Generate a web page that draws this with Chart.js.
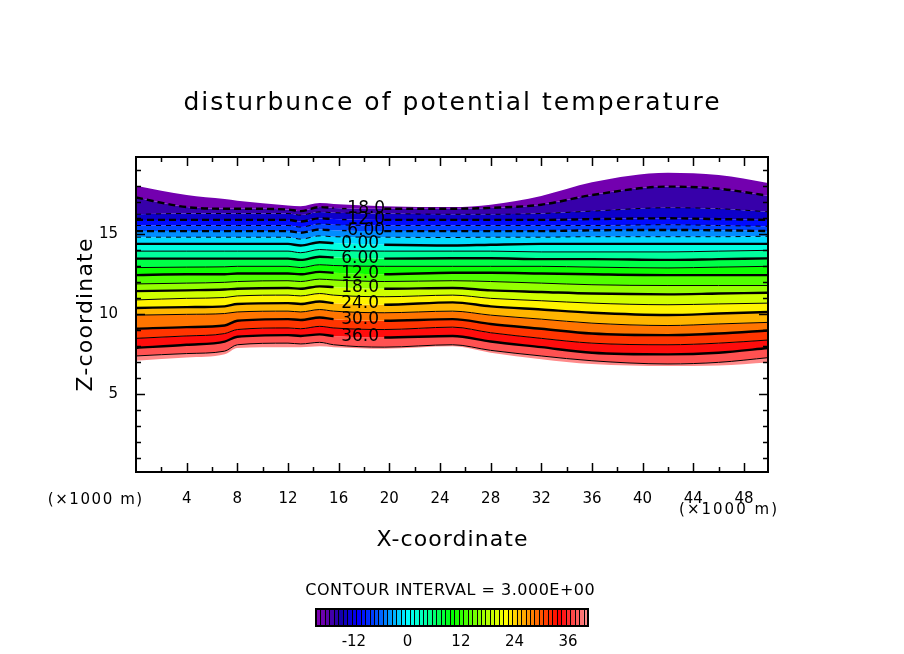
<!DOCTYPE html>
<html>
<head>
<meta charset="utf-8">
<title>disturbunce of potential temperature</title>
<script src="https://cdn.jsdelivr.net/npm/chart.js@4.4.1/dist/chart.umd.min.js"></script>
<style>
  html, body { margin: 0; padding: 0; background: #fff; }
  #wrap { width: 904px; height: 654px; }
</style>
</head>
<body>
<div id="wrap"><canvas id="thetaChart"></canvas></div>
<script>
const xPos = [0, 4, 7, 8, 12, 13, 14.5, 15.6, 19.6, 25, 28, 32, 36, 42, 46, 50];

// upper and lower edge of the shaded field (Z, x1000 m)
const topEdge    = [18.04, 17.45, 17.2, 17.1, 16.8, 16.75, 16.95, 16.9, 16.75, 16.7, 16.85, 17.4, 18.25, 18.85, 18.7, 18.2];
const bottomEdge = [7.1, 7.3, 7.5, 7.9, 7.95, 7.95, 8.0, 7.95, 7.85, 8.0, 7.6, 7.2, 6.9, 6.77, 6.8, 7.0];

// contour heights, one array per level
const zM18 = [17.3, 16.7, 16.6, 16.6, 16.55, 16.45, 16.7, 16.65, 16.6, 16.6, 16.65, 16.85, 17.45, 17.98, 17.85, 17.4];
const zM15 = [16.25, 16.3, 16.3, 16.3, 16.3, 16.2, 16.4, 16.35, 16.3, 16.25, 16.25, 16.3, 16.45, 16.66, 16.6, 16.4];
const zM12 = [15.9, 15.9, 15.9, 15.9, 15.9, 15.8, 16.0, 15.95, 15.9, 15.9, 15.9, 15.9, 15.95, 16.0, 15.95, 15.9];
const zM9  = [15.55, 15.55, 15.55, 15.55, 15.55, 15.45, 15.65, 15.6, 15.55, 15.55, 15.55, 15.55, 15.55, 15.6, 15.55, 15.5];
const zM6  = [15.2, 15.2, 15.2, 15.2, 15.2, 15.1, 15.3, 15.25, 15.2, 15.2, 15.2, 15.2, 15.25, 15.27, 15.25, 15.2];
const zM3  = [14.82, 14.82, 14.82, 14.82, 14.82, 14.7, 14.9, 14.85, 14.82, 14.8, 14.82, 14.82, 14.85, 14.85, 14.85, 14.88];
const z0   = [14.4, 14.4, 14.4, 14.4, 14.4, 14.3, 14.5, 14.45, 14.35, 14.3, 14.35, 14.4, 14.4, 14.4, 14.4, 14.4];
const z3   = [13.95, 13.95, 13.95, 13.95, 13.95, 13.85, 14.05, 14.0, 13.95, 13.95, 13.95, 13.9, 13.9, 13.9, 13.95, 14.0];
const z6   = [13.48, 13.48, 13.48, 13.48, 13.48, 13.4, 13.6, 13.55, 13.48, 13.5, 13.5, 13.45, 13.45, 13.4, 13.45, 13.5];
const z9   = [12.92, 12.95, 12.97, 13.0, 13.0, 12.92, 13.1, 13.05, 13.0, 13.0, 13.0, 13.0, 12.95, 12.9, 12.95, 13.0];
const z12  = [12.45, 12.5, 12.5, 12.55, 12.55, 12.5, 12.65, 12.6, 12.5, 12.6, 12.6, 12.55, 12.5, 12.45, 12.45, 12.45];
const z15  = [11.9, 11.95, 12.0, 12.05, 12.1, 12.05, 12.2, 12.15, 12.05, 12.1, 12.05, 11.95, 11.85, 11.8, 11.8, 11.8];
const z18  = [11.45, 11.5, 11.55, 11.6, 11.65, 11.6, 11.75, 11.7, 11.6, 11.65, 11.5, 11.4, 11.3, 11.25, 11.3, 11.35];
const z21  = [10.9, 11.0, 11.05, 11.15, 11.2, 11.15, 11.3, 11.2, 11.1, 11.2, 11.0, 10.85, 10.7, 10.6, 10.65, 10.7];
const z24  = [10.4, 10.45, 10.5, 10.65, 10.7, 10.65, 10.8, 10.7, 10.6, 10.75, 10.5, 10.3, 10.1, 9.96, 10.05, 10.15];
const z27  = [9.95, 10.0, 10.05, 10.15, 10.2, 10.15, 10.3, 10.2, 10.1, 10.2, 9.95, 9.7, 9.45, 9.3, 9.4, 9.5];
const z30  = [9.1, 9.2, 9.3, 9.6, 9.7, 9.65, 9.8, 9.7, 9.6, 9.7, 9.4, 9.1, 8.8, 8.7, 8.8, 9.0];
const z33  = [8.5, 8.65, 8.8, 9.05, 9.15, 9.1, 9.25, 9.15, 9.05, 9.2, 8.85, 8.5, 8.2, 8.1, 8.2, 8.4];
const z36  = [7.9, 8.1, 8.3, 8.6, 8.7, 8.65, 8.75, 8.65, 8.55, 8.65, 8.3, 7.95, 7.6, 7.5, 7.6, 7.9];
const z39  = [7.4, 7.55, 7.7, 8.1, 8.2, 8.15, 8.25, 8.1, 7.95, 8.1, 7.75, 7.4, 7.1, 6.9, 7.0, 7.3];

const levels = [-18, -15, -12, -9, -6, -3, 0, 3, 6, 9, 12, 15, 18, 21, 24, 27, 30, 33, 36, 39];
const contourRows = [zM18, zM15, zM12, zM9, zM6, zM3, z0, z3, z6, z9, z12, z15, z18, z21, z24, z27, z30, z33, z36, z39];

// labelled contours
const labelLevels = [-18, -12, -6, 0, 6, 12, 18, 24, 30, 36];
const labelTexts = ["-18.0", "-12.0", "-6.00", "0.00", "6.00", "12.0", "18.0", "24.0", "30.0", "36.0"];

// axis ticks
const xTickLabels = [4, 8, 12, 16, 20, 24, 28, 32, 36, 40, 44, 48];
const yTickLabels = [5, 10, 15];

// colour bar
const cbarMin = -20;
const cbarMax = 40;
const cbarLabels = [-12, 0, 12, 24, 36];

// colour table (value -> rgb)
const colorStops = [
  [-21, [140, 0, 180]], [-18, [90, 0, 170]], [-15, [20, 0, 170]], [-11, [0, 0, 255]],
  [-6, [0, 100, 255]], [-3, [0, 180, 255]], [0, [0, 255, 255]], [4, [0, 255, 170]],
  [10, [0, 255, 0]], [17, [160, 255, 0]], [22, [255, 255, 0]], [28, [255, 128, 0]],
  [34, [255, 0, 0]], [37, [255, 70, 70]], [41, [255, 160, 160]]
];

function fieldColor(v) {
  if (v <= colorStops[0][0]) return "rgb(" + colorStops[0][1].join(",") + ")";
  for (let i = 1; i < colorStops.length; i++) {
    const [v1, c1] = colorStops[i];
    if (v <= v1) {
      const [v0, c0] = colorStops[i - 1];
      const t = (v - v0) / (v1 - v0);
      const c = c0.map((a, k) => Math.round(a + (c1[k] - a) * t));
      return "rgb(" + c.join(",") + ")";
    }
  }
  return "rgb(" + colorStops[colorStops.length - 1][1].join(",") + ")";
}

function toPoints(row) {
  return xPos.map((x, i) => ({ x: x, y: row[i] }));
}

const gapFrom = 15.6;
const gapTo = 19.6;
const labelX = 16.2;
const FONT = "DejaVu Sans";

// shaded bands: each one fills up to the dataset before it
const bandSets = [];
bandSets.push({
  label: "top",
  data: toPoints(topEdge),
  borderWidth: 0,
  borderColor: "rgba(0,0,0,0)",
  fill: false,
});
levels.forEach((lev, k) => {
  bandSets.push({
    label: "band " + lev,
    data: toPoints(contourRows[k]),
    borderWidth: 0,
    borderColor: "rgba(0,0,0,0)",
    backgroundColor: fieldColor(lev - 1.5),
    fill: "-1",
  });
});
bandSets.push({
  label: "bottom",
  data: toPoints(bottomEdge),
  borderWidth: 0,
  borderColor: "rgba(0,0,0,0)",
  backgroundColor: fieldColor(40),
  fill: "-1",
});

// contour lines drawn on top of the bands
const lineSets = levels.map((lev, k) => {
  const thick = lev % 6 === 0;
  const ds = {
    label: String(lev),
    data: toPoints(contourRows[k]),
    borderColor: "#000",
    borderWidth: thick ? 2.4 : 1,
    borderDash: lev < 0 ? (thick ? [7, 4] : [5, 5]) : [],
    fill: false,
  };
  if (labelLevels.includes(lev)) {
    ds.segment = {
      borderColor: (ctx) =>
        ctx.p0.parsed.x >= gapFrom && ctx.p1.parsed.x <= gapTo ? "rgba(0,0,0,0)" : "#000",
    };
  }
  return ds;
});

// text drawn to a given width (stroke fonts are spaced wider)
function fitText(ctx, text, x, y, width) {
  ctx.letterSpacing = "0px";
  const natural = ctx.measureText(text).width;
  const extra = (width - natural) / Math.max(1, text.length);
  ctx.letterSpacing = extra.toFixed(2) + "px";
  ctx.fillText(text, x + extra / 2, y);
  ctx.letterSpacing = "0px";
}

// frame with inward ticks on all four sides, plus labels
const framePlugin = {
  id: "frame",
  afterDatasetsDraw(chart) {
    const { ctx, chartArea: a, scales } = chart;
    const x = scales.x, y = scales.y;
    ctx.save();
    ctx.strokeStyle = "#000";
    ctx.lineWidth = 1.5;
    ctx.beginPath();
    for (let v = 2; v < 50; v += 2) {
      const px = Math.round(x.getPixelForValue(v)) + 0.5;
      const len = v % 4 === 0 ? 9 : 5;
      ctx.moveTo(px, a.bottom); ctx.lineTo(px, a.bottom - len);
      ctx.moveTo(px, a.top); ctx.lineTo(px, a.top + len);
    }
    for (let v = 1; v < 20; v++) {
      const py = Math.round(y.getPixelForValue(v)) + 0.5;
      const len = v % 5 === 0 ? 9 : 5;
      ctx.moveTo(a.left, py); ctx.lineTo(a.left + len, py);
      ctx.moveTo(a.right, py); ctx.lineTo(a.right - len, py);
    }
    ctx.stroke();
    ctx.lineWidth = 2;
    ctx.strokeRect(a.left, a.top, a.right - a.left, a.bottom - a.top);

    // contour labels
    ctx.fillStyle = "#000";
    ctx.font = "17px '" + FONT + "'";
    ctx.textAlign = "left";
    ctx.textBaseline = "middle";
    labelLevels.forEach((lev, i) => {
      const row = contourRows[levels.indexOf(lev)];
      const z = (row[xPos.indexOf(gapFrom)] + row[xPos.indexOf(gapTo)]) / 2;
      ctx.fillText(labelTexts[i], x.getPixelForValue(labelX), y.getPixelForValue(z));
    });
    ctx.restore();
  },
  afterDraw(chart) {
    const { ctx } = chart;
    ctx.save();
    ctx.fillStyle = "#000";
    ctx.textAlign = "center";

    ctx.textBaseline = "alphabetic";
    ctx.font = "25px '" + FONT + "'";
    fitText(ctx, "disturbunce of potential temperature", 451.5, 110, 538);

    ctx.font = "22px '" + FONT + "'";
    fitText(ctx, "X-coordinate", 452, 546, 152);

    ctx.save();
    ctx.translate(92, 315);
    ctx.rotate(-Math.PI / 2);
    fitText(ctx, "Z-coordinate", 0, 0, 154);
    ctx.restore();

    ctx.textBaseline = "middle";
    ctx.font = "15px '" + FONT + "'";
    fitText(ctx, "(\u00d71000 m)", 95, 500, 96);
    fitText(ctx, "(\u00d71000 m)", 728, 510, 100);

    ctx.textBaseline = "alphabetic";
    ctx.font = "16px '" + FONT + "'";
    fitText(ctx, "CONTOUR INTERVAL = 3.000E+00", 450, 595, 290);

    // colour bar
    const bx0 = 316, bx1 = 588, by0 = 609, by1 = 626;
    const n = cbarMax - cbarMin + 1;
    const w = (bx1 - bx0) / n;
    for (let i = 0; i < n; i++) {
      ctx.fillStyle = fieldColor(cbarMin + i);
      ctx.fillRect(bx0 + i * w, by0, w + 0.5, by1 - by0);
    }
    ctx.strokeStyle = "#000";
    ctx.lineWidth = 1;
    ctx.beginPath();
    for (let i = 1; i < n; i++) {
      const px = Math.round(bx0 + i * w) + 0.5;
      ctx.moveTo(px, by0); ctx.lineTo(px, by1);
    }
    ctx.stroke();
    ctx.lineWidth = 2;
    ctx.strokeRect(bx0, by0, bx1 - bx0, by1 - by0);

    ctx.fillStyle = "#000";
    ctx.textBaseline = "middle";
    ctx.font = "15px '" + FONT + "'";
    cbarLabels.forEach((v) => {
      ctx.fillText(String(v), bx0 + (v - cbarMin + 0.5) * w, 642);
    });
    ctx.restore();
  },
};

new Chart(document.getElementById("thetaChart"), {
  type: "line",
  data: { datasets: bandSets.concat(lineSets) },
  options: {
    responsive: true,
    maintainAspectRatio: false,
    devicePixelRatio: 1,
    animation: false,
    events: [],
    layout: { padding: { top: 157, right: 136, left: 0, bottom: 0 } },
    elements: {
      point: { radius: 0, hitRadius: 0 },
      line: { cubicInterpolationMode: "monotone" },
    },
    plugins: {
      legend: { display: false },
      title: { display: false },
      tooltip: { enabled: false },
      filler: { propagate: false, drawTime: "beforeDatasetsDraw" },
    },
    scales: {
      x: {
        type: "linear",
        min: 0,
        max: 49.9,
        grid: { display: false },
        border: { display: false },
        afterBuildTicks: (s) => {
          s.ticks = xTickLabels.map((v) => ({ value: v }));
        },
        afterFit: (s) => {
          s.height = 654 - 472;
        },
        ticks: {
          autoSkip: false,
          maxRotation: 0,
          padding: 10,
          color: "#000",
          font: { family: FONT, size: 15 },
        },
      },
      y: {
        type: "linear",
        min: 0.15,
        max: 19.83,
        grid: { display: false },
        border: { display: false },
        afterBuildTicks: (s) => {
          s.ticks = yTickLabels.map((v) => ({ value: v }));
        },
        afterFit: (s) => {
          s.width = 136;
        },
        ticks: {
          padding: 10,
          color: "#000",
          font: { family: FONT, size: 15 },
        },
      },
    },
  },
  plugins: [framePlugin],
});
</script>
</body>
</html>
